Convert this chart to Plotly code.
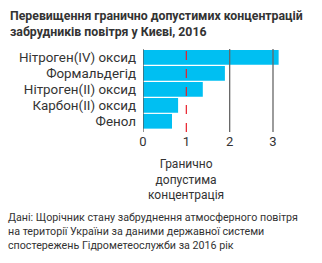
import plotly.graph_objects as go

categories = ["Нітроген(IV) оксид", "Формальдегід", "Нітроген(II) оксид", "Карбон(II) оксид", "Фенол"]
values = [3.13, 1.89, 1.38, 0.81, 0.67]
tick_vals = [0, 1, 2, 3]
limit_value = 1
limit_label = "Гранично<br>допустима<br>концентрація"
title = "Перевищення гранично допустимих концентрацій<br>забрудників повітря у Києві, 2016"
source = ("Дані: Щорічник стану забруднення атмосферного повітря<br>"
          "на території України за даними державної системи<br>"
          "спостережень Гідрометеослужби за 2016 рік")

FONT = "Roboto"
fig = go.Figure()
fig.add_trace(go.Bar(
    y=categories, x=values, orientation="h",
    marker=dict(color="#00BFF2", line=dict(width=0)),
    width=0.92, hoverinfo="skip",
))

shapes = []
for v in tick_vals:
    if v == limit_value:
        shapes.append(dict(type="line", xref="x", yref="paper", x0=v, x1=v, y0=0, y1=1,
                           line=dict(color="#E8202A", width=1.2, dash="dash"), layer="above"))
    else:
        shapes.append(dict(type="line", xref="x", yref="paper", x0=v, x1=v, y0=0, y1=1,
                           line=dict(color="#555555" if v == 0 else "#666666", width=1.3), layer="above"))

fig.update_layout(
    width=322, height=263,
    margin=dict(l=143, r=36, t=49, b=131),
    paper_bgcolor="white", plot_bgcolor="white",
    showlegend=False,
    font=dict(family=FONT, color="#333333"),
    shapes=shapes,
    xaxis=dict(range=[0, 3.3], tickvals=tick_vals, showgrid=False, zeroline=False,
               showline=False, ticks="", tickfont=dict(size=13, color="#333333"), fixedrange=True),
    yaxis=dict(categoryorder="array", categoryarray=categories, range=[4.67, -0.52],
               tickmode="array", tickvals=categories, ticktext=categories,
               showgrid=False, zeroline=False, showline=False, ticks="", ticklabelstandoff=6,
               tickfont=dict(size=13.4, color="#333333"), fixedrange=True),
    annotations=[
        dict(text="<b>" + title + "</b>", x=0, xref="paper", xanchor="left",
             y=1, yref="paper", yanchor="top", xshift=-135, yshift=42, showarrow=False, align="left",
             font=dict(size=12.3, color="#333333")),
        dict(text=limit_label, x=limit_value, xref="x", xanchor="center",
             y=0, yref="paper", yanchor="top", yshift=-23, showarrow=False, align="center",
             font=dict(size=12, color="#333333")),
        dict(text=source, x=0, xref="paper", xanchor="left", xshift=-137,
             y=0, yref="paper", yanchor="top", yshift=-77, showarrow=False, align="left",
             font=dict(size=10.7, color="#333333")),
    ],
)
fig.write_html("out.html")
